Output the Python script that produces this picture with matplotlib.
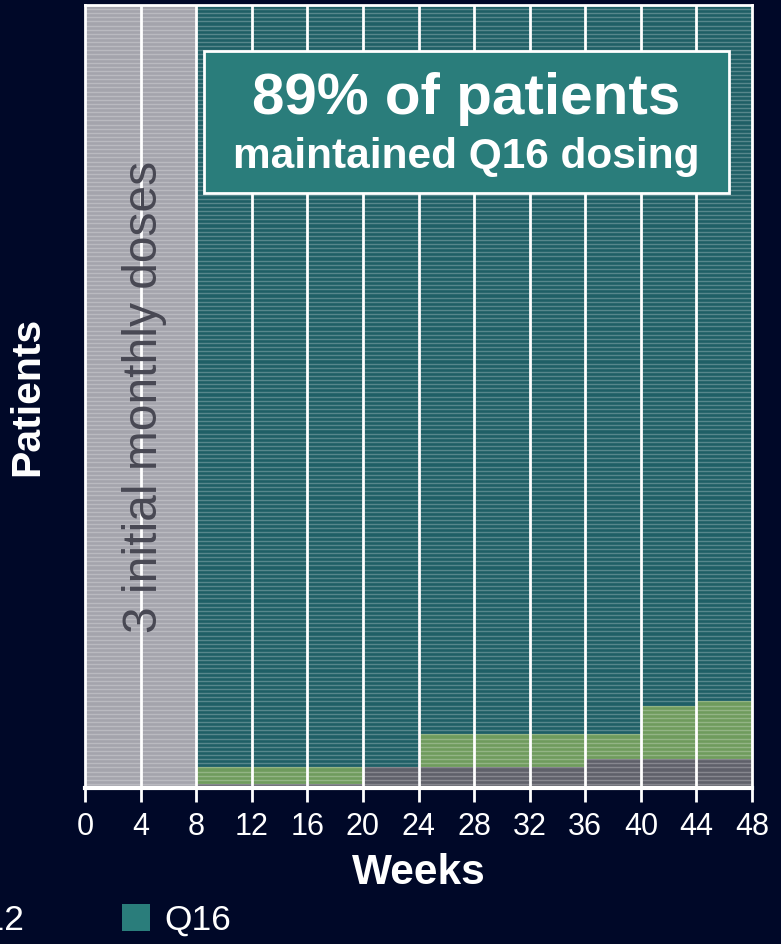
import numpy as np
import matplotlib.pyplot as plt
from matplotlib.patches import Patch

plt.rcParams['font.family'] = ['Liberation Sans', 'DejaVu Sans']

# patient counts per 4-week interval after the loading phase
n_patients = 190
interval_start = [8, 12, 16, 20, 24, 28, 32, 36, 40, 44]
q8_counts = [1, 1, 1, 5, 5, 5, 5, 7, 7, 7]
q12_counts = [4, 4, 4, 0, 8, 8, 8, 6, 13, 14]
week_ticks = list(range(0, 49, 4))
legend_labels = ['Q8', 'Q12', 'Q16']

bg = '#000828'
c_load = '#a4a4ac'
c_q8 = '#5f606a'
c_q12 = '#6f9b5d'
c_q16 = '#1f5f66'
c_box = '#2a7d7b'

q8 = np.array(q8_counts)
q12 = np.array(q12_counts)
q16 = n_patients - q8 - q12

fig = plt.figure(figsize=(7.81, 9.44), dpi=100, facecolor=bg)
ax = fig.add_axes([85 / 781, 1 - 788 / 944, (752 - 85) / 781, (788 - 5) / 944])
ax.set_facecolor(bg)

# loading phase
ax.bar(0, n_patients, width=8, align='edge', color=c_load, linewidth=0)
ax.bar(interval_start, q8, width=4, align='edge', color=c_q8, linewidth=0)
ax.bar(interval_start, q12, bottom=q8, width=4, align='edge', color=c_q12, linewidth=0)
ax.bar(interval_start, q16, bottom=q8 + q12, width=4, align='edge', color=c_q16, linewidth=0)

# one row per patient
ax.hlines(np.arange(1, n_patients), 0, 48, colors='white', alpha=0.25, linewidth=1.0)

for w in week_ticks[1:-1]:
    ax.axvline(w, color='white', linewidth=2)

ax.set_xlim(0, 48)
ax.set_ylim(0, n_patients)
ax.set_xticks(week_ticks)
ax.set_yticks([])
for s in ax.spines.values():
    s.set_color('white')
    s.set_linewidth(2)
ax.spines['bottom'].set_linewidth(3)
ax.tick_params(axis='x', colors='white', labelsize=22, length=10, width=2, pad=7)

ax.set_xlabel('Weeks', color='white', fontsize=30.5, fontweight='bold', labelpad=8)
ax.set_ylabel('Patients', color='white', fontsize=29.5, fontweight='bold', labelpad=28)

ax.text(4.3, n_patients / 2, '3 initial monthly doses', rotation=90, ha='center',
        va='center', fontsize=34.5, color='#484853')

# summary callout
box_x0 = (204 - 85) / 667 * 48
box_x1 = (729 - 85) / 667 * 48
box_y1 = (788 - 51) / 783 * n_patients
box_y0 = (788 - 193) / 783 * n_patients
ax.add_patch(plt.Rectangle((box_x0, box_y0), box_x1 - box_x0, box_y1 - box_y0,
                           facecolor=c_box, edgecolor='white', linewidth=2, zorder=5))
pct = round(100 * q16[-1] / n_patients)
xc = (box_x0 + box_x1) / 2
ax.text(xc, (788 - 99) / 783 * n_patients, f'{pct}% of patients', ha='center', va='center',
        fontsize=42, fontweight='bold', color='white', zorder=6)
ax.text(xc, (788 - 157) / 783 * n_patients, 'maintained Q16 dosing', ha='center', va='center',
        fontsize=30.5, fontweight='bold', color='white', zorder=6)

handles = [Patch(facecolor=c, edgecolor='none') for c in (c_q8, c_q12, '#2a7d7b')]
fig.legend(handles, legend_labels, ncol=3, loc='center left',
           bbox_to_anchor=(-274 / 781, 1 - 920 / 944), frameon=False, fontsize=25.5,
           labelcolor='white', handlelength=0.79, handleheight=0.79, handletextpad=0.42,
           columnspacing=2.77, borderpad=0, borderaxespad=0)

fig.savefig('out.png', dpi=100, facecolor=bg)
